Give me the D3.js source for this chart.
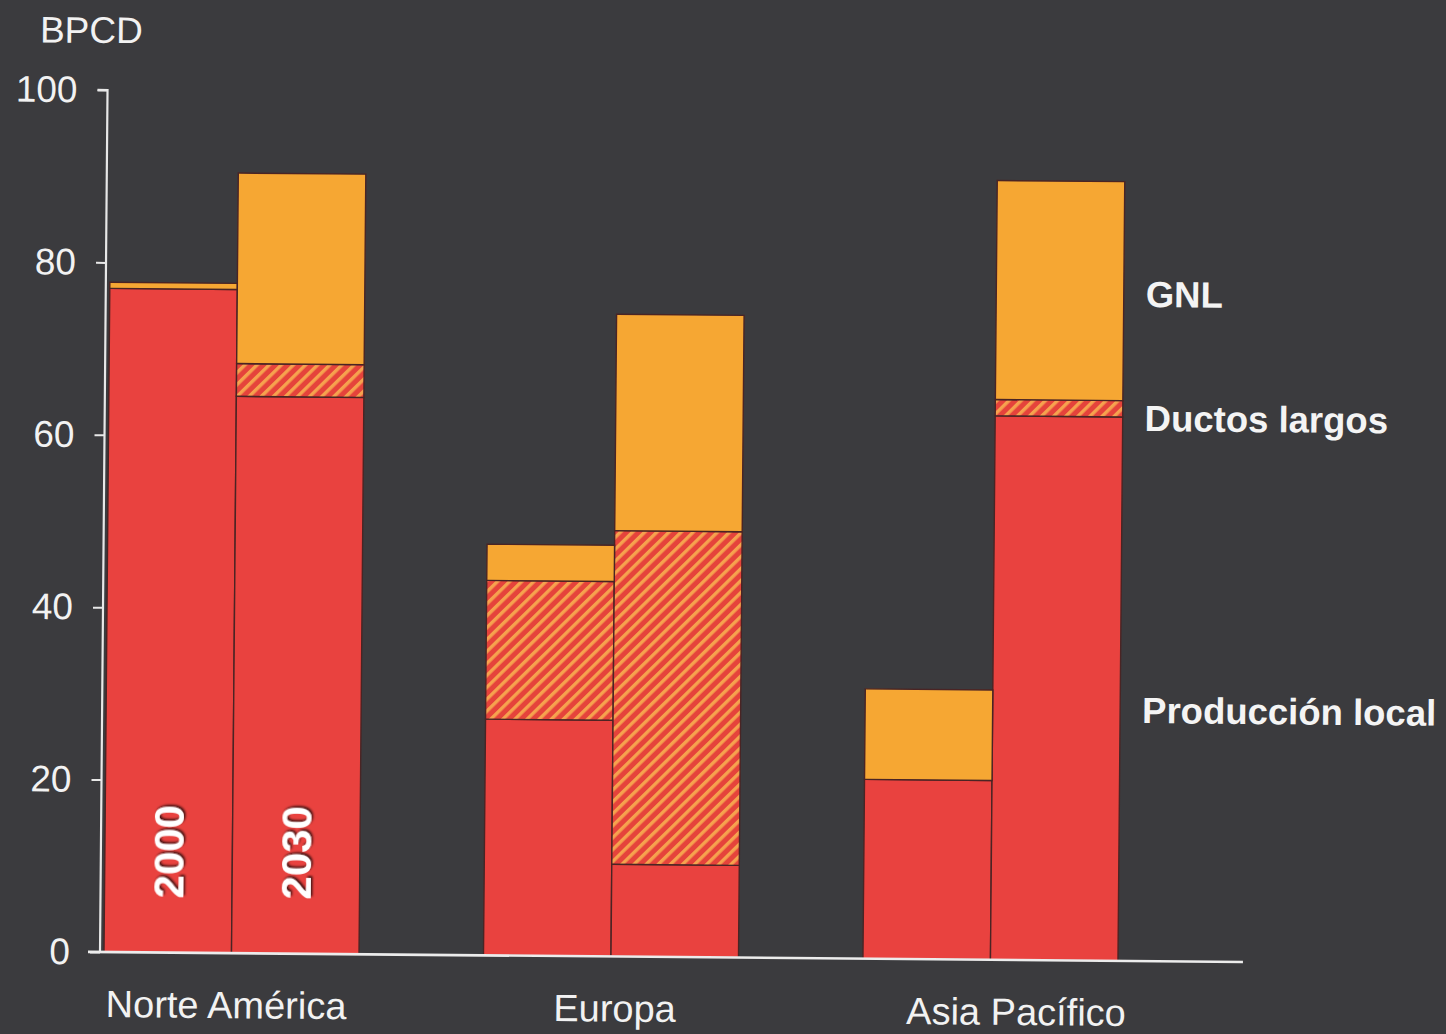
<!DOCTYPE html>
<html>
<head>
<meta charset="utf-8">
<script src="https://cdn.jsdelivr.net/npm/d3@7/dist/d3.min.js"></script>
<style>
  html, body { margin: 0; padding: 0; background: #3b3b3e; }
  svg { display: block; }
  text { font-family: "Liberation Sans", Arial, Helvetica, sans-serif; }
</style>
</head>
<body>
<svg id="chart" width="1446" height="1034"></svg>
<script>
// ---- data ----
const regions = ["Norte América", "Europa", "Asia Pacífico"];
const years = ["2000", "2030"];
const seriesNames = ["Producción local", "Ductos largos", "GNL"];
// values per bar, order: NA2000, NA2030, EU2000, EU2030, AP2000, AP2030
const localProd = [77.0, 64.6, 27.4, 10.7, 20.8, 63.1];
const ductos    = [0.0,  3.8, 16.1, 38.7,  0.0,  1.9];
const gnl       = [0.7, 22.1,  4.2, 25.1, 10.5, 25.4];
const yTicks = [0, 20, 40, 60, 80, 100];
const yLabel = "BPCD";
const legendLabels = ["GNL", "Ductos largos", "Producción local"];

// ---- build table ----
const rows = [];
regions.forEach((r, i) => years.forEach((yr, j) => {
  const k = i * 2 + j;
  rows.push({ region: r, year: yr, "Producción local": localProd[k], "Ductos largos": ductos[k], "GNL": gnl[k] });
}));

const svg = d3.select("#chart");
const W = 1446, H = 1034;
svg.append("rect").attr("width", W).attr("height", H).attr("fill", "#3b3b3e");

const defs = svg.append("defs");
const pat = defs.append("pattern")
  .attr("id", "hatch").attr("patternUnits", "userSpaceOnUse")
  .attr("width", 8.5).attr("height", 8.5)
  .attr("patternTransform", "rotate(45)");
pat.append("rect").attr("width", 8.5).attr("height", 8.5).attr("fill", "#e5433b");
pat.append("rect").attr("x", 0).attr("width", 3.4).attr("height", 8.5).attr("fill", "#f6a24e");

const f = defs.append("filter").attr("id", "shadow").attr("x", "-20%").attr("y", "-20%").attr("width", "140%").attr("height", "140%");
f.append("feDropShadow").attr("dx", 2).attr("dy", 1.5).attr("stdDeviation", 0.8)
  .attr("flood-color", "#000").attr("flood-opacity", 0.75);

// slight scan tilt
const g = svg.append("g").attr("transform", "rotate(0.5,100,952)");

const y = d3.scaleLinear().domain([0, 100]).range([952, 90]);
const x0 = d3.scaleBand().domain(regions).range([104, 1118]).paddingInner(0.328).paddingOuter(0);
const x1 = d3.scaleBand().domain(years).range([0, x0.bandwidth()]).padding(0);

const colors = { "Producción local": "#e9423f", "Ductos largos": "url(#hatch)", "GNL": "#f6a733" };

const stack = d3.stack().keys(seriesNames);
const stacked = stack(rows);

stacked.forEach(layer => {
  g.append("g").selectAll("rect")
    .data(layer.filter(d => d[1] - d[0] > 0))
    .join("rect")
    .attr("x", d => x0(d.data.region) + x1(d.data.year))
    .attr("width", x1.bandwidth())
    .attr("y", d => y(d[1]))
    .attr("height", d => y(d[0]) - y(d[1]))
    .attr("fill", colors[layer.key])
    .attr("stroke", "#4a2424")
    .attr("stroke-width", 1.4);
});

// year labels inside first group
years.forEach(yr => {
  const cx = x0(regions[0]) + x1(yr) + x1.bandwidth() / 2;
  const cy = y(11.7);
  g.append("text")
    .attr("transform", `translate(${cx},${cy}) rotate(-90)`)
    .attr("text-anchor", "middle")
    .attr("dominant-baseline", "central")
    .attr("font-size", 42).attr("font-weight", "bold")
    .attr("fill", "#ffffff")
    .attr("filter", "url(#shadow)")
    .text(yr);
});

// y axis
const yAxis = d3.axisLeft(y).tickValues(yTicks).tickSize(10).tickPadding(20).tickFormat(d3.format("d"));
const ya = g.append("g").attr("transform", "translate(100,0)").call(yAxis);
ya.select(".domain").attr("stroke", "#e8e8e8").attr("stroke-width", 2.2).attr("d", `M-10,${y(100)}H0V${y(0)}`);
ya.selectAll(".tick line").attr("stroke", "#e8e8e8").attr("stroke-width", 2);
ya.selectAll(".tick text").attr("fill", "#f2f2f2").attr("font-size", 37)
  .attr("font-family", "Liberation Sans, Arial, sans-serif");

// x axis line and region labels
const labelDx = [-5, 4, 26];
const xa = g.append("g").attr("transform", `translate(0,${y(0)})`)
  .call(d3.axisBottom(x0).tickSize(0).tickPadding(38));
xa.select(".domain").attr("stroke", "#ececec").attr("stroke-width", 2.6).attr("d", "M88,0H1243");
xa.selectAll(".tick text").attr("fill", "#f2f2f2").attr("font-size", 38)
  .attr("font-family", "Liberation Sans, Arial, sans-serif")
  .attr("dx", (d, i) => labelDx[i]);

// unit label
g.append("text").attr("x", 32).attr("y", 43).attr("font-size", 37).attr("fill", "#f2f2f2").text(yLabel);

// series labels on right
const legY = [298, 422, 714];
legendLabels.forEach((t, i) => {
  g.append("text").attr("x", 1140).attr("y", legY[i])
    .attr("font-size", 36.5).attr("font-weight", "bold").attr("fill", "#f4f4f4").text(t);
});
</script>
</body>
</html>
